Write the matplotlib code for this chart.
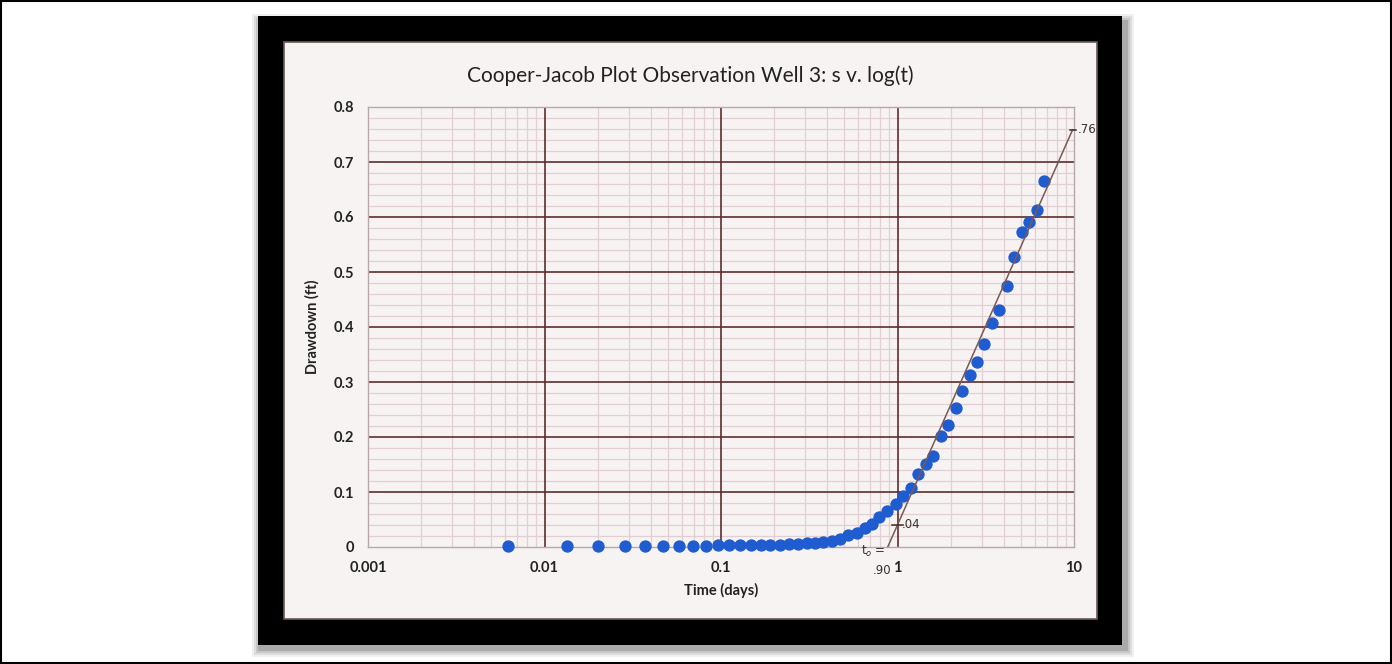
import matplotlib.pyplot as plt
from matplotlib.patches import Rectangle
from matplotlib.ticker import FixedLocator, NullFormatter, LogLocator


# Donnees
temps = [0.0062, 0.0134, 0.0201, 0.0286, 0.0371, 0.0469, 0.0578, 0.0694, 0.0822, 0.0962,
         0.111, 0.128, 0.148, 0.169, 0.190, 0.216, 0.243, 0.273, 0.307, 0.341,
         0.379, 0.426, 0.472, 0.524, 0.590, 0.655, 0.718, 0.786, 0.873, 0.981,
         1.074, 1.19, 1.31, 1.45, 1.59, 1.76, 1.94, 2.14, 2.33, 2.57,
         2.82, 3.10, 3.42, 3.76, 4.15, 4.59, 5.07, 5.58, 6.15, 6.76]
rabattement = [0.002, 0.002, 0.002, 0.002, 0.002, 0.002, 0.002, 0.002, 0.002, 0.003,
               0.003, 0.003, 0.003, 0.003, 0.003, 0.004, 0.005, 0.006, 0.007, 0.008,
               0.010, 0.011, 0.015, 0.021, 0.026, 0.035, 0.042, 0.055, 0.065, 0.078,
               0.093, 0.107, 0.133, 0.151, 0.166, 0.202, 0.222, 0.252, 0.284, 0.313,
               0.336, 0.369, 0.408, 0.431, 0.475, 0.528, 0.573, 0.591, 0.613, 0.665]

# droite tracee a la main
droite_t = [0.88, 9.8]
droite_s = [0.0, 0.758]

xticks = [0.001, 0.01, 0.1, 1, 10]
xlabels = ["0.001", "0.01", "0.1", "1", "10"]
yticks = [0, 0.1, 0.2, 0.3, 0.4, 0.5, 0.6, 0.7, 0.8]
ylabels = ["0", "0.1", "0.2", "0.3", "0.4", "0.5", "0.6", "0.7", "0.8"]

W, H = 1392, 664
fig = plt.figure(figsize=(W/100, H/100), dpi=100)
fig.patch.set_facecolor("white")

def rect(x0, y0, x1, y1, **kw):
    # coordonnees en pixels (origine en haut a gauche)
    r = Rectangle((x0/W, 1 - y1/H), (x1-x0)/W, (y1-y0)/H, transform=fig.transFigure,
                  zorder=-5, **kw)
    fig.patches.append(r)

# cadre de l'image
rect(1, 1, W-1, H-1, facecolor="none", edgecolor="black", linewidth=1.5)

# ombre du cadre noir
for i, a in enumerate([0.06, 0.08, 0.10, 0.14]):
    d = 10 - 2*i
    rect(258 - d + 4, 16 - d + 8, 1122 + d + 2, 645 + d + 2, facecolor="black", alpha=a, edgecolor="none")

# cadre noir de la photo
rect(258, 16, 1122, 645, facecolor="black", edgecolor="none")
# feuille de papier
rect(284, 42, 1097, 619, facecolor="#f7f3f2", edgecolor="#6a5a58", linewidth=1.2)

ax = fig.add_axes([368/W, 1 - 547/H, (1074-368)/W, (547-107)/H])
ax.set_facecolor("#f8f3f3")
ax.set_xscale("log")
ax.set_xlim(0.001, 10)
ax.set_ylim(0, 0.8)

ax.xaxis.set_major_locator(FixedLocator(xticks))
ax.xaxis.set_minor_locator(LogLocator(base=10, subs=range(2, 10), numticks=20))
ax.xaxis.set_minor_formatter(NullFormatter())
ax.set_xticks(xticks, xlabels)
ax.set_yticks(yticks, ylabels)
ax.set_yticks([i*0.02 for i in range(41)], minor=True)

# grille secondaire
ax.grid(which="minor", color="#e2cfd3", linewidth=0.9)
ax.set_axisbelow(True)
# grille principale par-dessus
for xv in xticks[1:-1]:
    ax.axvline(xv, color="#5e2c2c", linewidth=1.2, zorder=1)
for yv in yticks[1:-1]:
    ax.axhline(yv, color="#5e2c2c", linewidth=1.2, zorder=1)

ax.tick_params(which="both", length=0, labelsize=10.5, colors="#222222", pad=10)
for lab in ax.get_xticklabels() + ax.get_yticklabels():
    lab.set_fontfamily("Lato")
    lab.set_fontweight("bold")
for s in ax.spines.values():
    s.set_color("#b8a8a8")
    s.set_linewidth(1)

ax.scatter(temps, rabattement, s=62, color="#1f5ccf", zorder=3, clip_on=False)
ax.plot(droite_t, droite_s, color="#7a5a52", linewidth=1.1, zorder=4)

# annotations a la main
ax.plot([0.93, 1.07], [0.04, 0.04], color="#3a2a2a", linewidth=1.1, zorder=4)
ax.plot([9.5, 10.2], [0.758, 0.758], color="#3a2a2a", linewidth=1.1, zorder=4, clip_on=False)
ax.text(1.06, 0.034, ".04", fontsize=8.5, color="#3a3030", zorder=5)
ax.text(10.5, 0.752, ".76", fontsize=8.5, color="#3a3030", clip_on=False)
ax.text(0.62, -0.014, "t$_o$ =", fontsize=8.5, color="#3a3030", clip_on=False)
ax.text(0.72, -0.05, ".90", fontsize=8.5, color="#3a3030", clip_on=False)

# titre centre sur la feuille, pas sur le graphique
ax.set_title("Cooper-Jacob Plot Observation Well 3: s v. log(t)", fontsize=15,
             fontfamily="Lato", color="#222222", pad=18, x=(690-368)/706)
ax.set_xlabel("Time (days)", fontsize=10.5, fontfamily="Lato", fontweight="bold",
              color="#222222", labelpad=6)
ax.set_ylabel("Drawdown (ft)", fontsize=10.5, fontfamily="Lato", fontweight="bold",
              color="#222222", labelpad=10)

plt.savefig("out.png", dpi=100)
